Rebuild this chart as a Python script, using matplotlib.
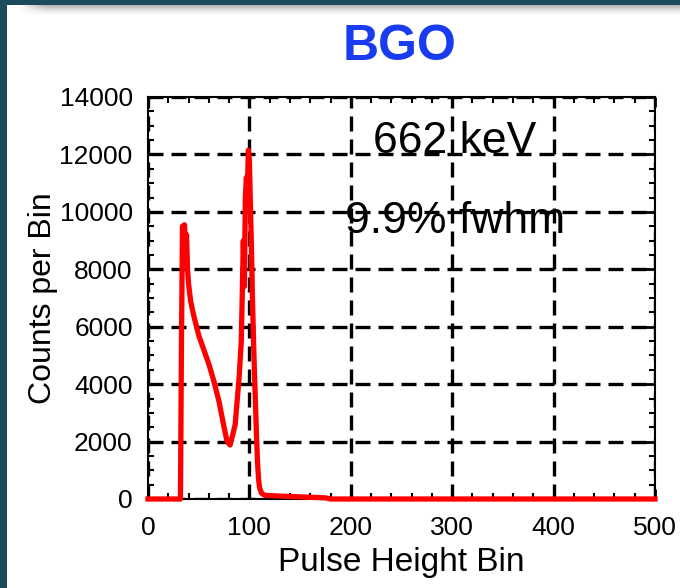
import numpy as np
import matplotlib
matplotlib.use("Agg")
import matplotlib.pyplot as plt
from matplotlib.patches import Rectangle

# ---- data ----
bins = [0, 32, 33, 34, 35, 36, 37, 38, 39, 40, 42, 45, 50, 55, 60, 65, 70, 75, 78, 81,
        84, 86, 88, 90, 92, 93, 94, 95, 96, 97, 98, 99, 100, 101, 102, 103, 104, 105,
        106, 107, 108, 109, 110, 112, 115, 120, 130, 145, 160, 175, 180, 500]
counts = [0, 0, 5400, 9500, 9300, 9550, 8700, 9200, 8000, 7500, 6900, 6400, 5700, 5200,
          4700, 4100, 3400, 2500, 2000, 1880, 2300, 2600, 3450, 4300, 5500, 7200, 9000,
          7400, 10500, 11200, 10800, 12150, 11800, 10200, 8800, 7000, 5600, 4400, 3300,
          2200, 1300, 700, 400, 200, 130, 120, 100, 80, 60, 40, 0, 0]
x_ticks = [0, 100, 200, 300, 400, 500]
y_ticks = [0, 2000, 4000, 6000, 8000, 10000, 12000, 14000]
title = "BGO"
xlabel = "Pulse Height Bin"
ylabel = "Counts per Bin"
note1 = "662 keV"
note2 = "9.9% fwhm"

plt.rcParams['font.family'] = ['Liberation Sans', 'DejaVu Sans']

W, H = 680, 588
fig = plt.figure(figsize=(W / 100, H / 100), dpi=100)
fig.patch.set_facecolor('#1b4a5b')

# white slide panel (background axes)
bg = fig.add_axes([7 / W, 0, 1 - 7 / W, 1 - 5 / H], zorder=-10)
bg.set_axis_off()
bg.add_patch(Rectangle((0, 0), 1, 1, transform=bg.transAxes, facecolor='white',
                       edgecolor='none'))
# top shadow gradient
sh = fig.add_axes([7 / W, 1 - 16 / H, 1 - 7 / W, 11 / H], zorder=-5)
sh.set_axis_off()
gy = np.linspace(1, 0, 11)[:, None]
gx = np.clip((np.arange(673) - 12) / 25.0, 0, 1)[None, :]
alpha = 0.45 * gy ** 1.5 * gx
img = np.zeros((11, 673, 4))
img[..., :3] = 0.35
img[..., 3] = alpha
sh.imshow(img, aspect='auto', interpolation='bilinear')

ax = fig.add_axes([148 / W, 89 / H, 507 / W, 402 / H])
ax.set_facecolor('white')
ax.set_xlim(0, 500)
ax.set_ylim(0, 14000)
ax.set_xticks(x_ticks)
ax.set_yticks(y_ticks)
ax.set_xticks(np.arange(0, 501, 20), minor=True)
ax.set_yticks(np.arange(0, 14001, 500), minor=True)
ax.tick_params(which='both', direction='in', top=True, right=True, labelsize=19,
               colors='black')
ax.tick_params(axis='x', which='major', pad=12)
ax.tick_params(axis='y', which='major', pad=11)
ax.tick_params(which='major', length=7, width=2)
ax.tick_params(which='minor', length=4, width=1.5)
for s in ax.spines.values():
    s.set_linewidth(1.5)
    s.set_color('black')

ax.grid(True, which='major', color='black', linewidth=2.4,
        linestyle=(0, (4.5, 2.4)))
ax.set_axisbelow(True)

ax.plot(bins, counts, color='#ff0000', linewidth=3.8, clip_on=False, zorder=3,
        solid_joinstyle='round')

ax.text(222, 12055, note1, fontsize=32, color='black', ha='left', va='baseline', zorder=1)
ax.text(194, 9270, note2, fontsize=32, color='black', ha='left', va='baseline', zorder=1)

ax.set_xlabel(xlabel, fontsize=24, labelpad=5)
ax.set_ylabel(ylabel, fontsize=23, labelpad=1)

fig.text(400 / W, 1 - 47 / H, title, fontsize=36, fontweight='bold', color='#1a3cf0',
         ha='center', va='center')

fig.savefig('out.png', dpi=100, facecolor=fig.get_facecolor())
